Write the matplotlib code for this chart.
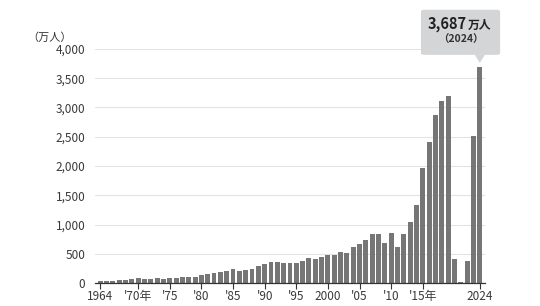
import numpy as np
import matplotlib.pyplot as plt
from matplotlib.patches import FancyBboxPatch, Polygon

plt.rcParams['font.family'] = ['Noto Sans CJK JP', 'DejaVu Sans']

# Data (万人)
years = list(range(1964, 2025))
visitors = [35, 37, 43, 48, 52, 61, 85, 66, 72, 78,
            76, 81, 91, 103, 104, 111, 132, 158, 179, 197,
            211, 233, 206, 216, 236, 284, 324, 353, 358, 341,
            347, 335, 384, 422, 411, 444, 476, 477, 524, 521,
            614, 673, 733, 835, 835, 679, 861, 622, 836, 1036,
            1341, 1974, 2404, 2869, 3119, 3188, 412, 25, 383, 2507,
            3687]
tick_years = [1964, 1970, 1975, 1980, 1985, 1990, 1995, 2000, 2005, 2010, 2015, 2024]
tick_labels = ["1964", "'70年", "'75", "'80", "'85", "'90", "'95", "2000", "'05", "'10", "'15年", "2024"]
y_ticks = [0, 500, 1000, 1500, 2000, 2500, 3000, 3500, 4000]

fig = plt.figure(figsize=(5.4, 3.06), dpi=100)
ax = fig.add_axes([0.176, 0.075, 0.722, 0.765])

ax.bar(years, visitors, width=0.78, color="#767676", zorder=3)

ax.set_xlim(1963.2, 2024.8)
ax.set_ylim(0, 4000)
ax.set_yticks(y_ticks)
ax.set_yticklabels([f"{v:,}" for v in y_ticks], fontsize=8.5, color="#3a3a3a")
ax.set_xticks(tick_years)
ax.set_xticklabels(tick_labels, fontsize=8.5, color="#3a3a3a")
ax.tick_params(axis="y", length=0, pad=7)
ax.tick_params(axis="x", length=4, width=0.8, color="#333333", pad=1)
ax.grid(axis="y", color="#e3e3e3", lw=0.8, zorder=0)
for s in ["top", "right", "left"]:
    ax.spines[s].set_visible(False)
ax.spines["bottom"].set_color("#333333")
ax.spines["bottom"].set_linewidth(0.9)
ax.spines["bottom"].set_zorder(4)

ax.text(-0.06, 1.025, "（万人）", transform=ax.transAxes, fontsize=8,
        color="#333333", ha="right", va="bottom")

# callout box for 2024
box_x0, box_x1 = 2014.7, 2027.2
box_y0, box_y1 = 3900, 4670
box = FancyBboxPatch((box_x0, box_y0), box_x1 - box_x0, box_y1 - box_y0,
                     boxstyle="round,pad=0,rounding_size=0.5",
                     mutation_aspect=60, facecolor="#d3d5d7", edgecolor="none",
                     clip_on=False, zorder=5)
ax.add_patch(box)
tri = Polygon([[2023.2, box_y0 + 1], [2024.8, box_y0 + 1], [2024, box_y0 - 140]],
              closed=True, facecolor="#d3d5d7", edgecolor="none", clip_on=False, zorder=5)
ax.add_patch(tri)
cx = (box_x0 + box_x1) / 2
ax.text(cx + 1.0, 4420, "3,687", ha="right", va="center",
        fontsize=10.5, fontweight="bold", color="#222222", zorder=6)
ax.text(cx + 1.2, 4405, "万人", ha="left", va="center",
        fontsize=8.5, fontweight="bold", color="#222222", zorder=6)
ax.text(cx, 4160, "（2024）", ha="center", va="center",
        fontsize=7.5, fontweight="bold", color="#333333", zorder=6)

fig.savefig("out.png", dpi=100)
